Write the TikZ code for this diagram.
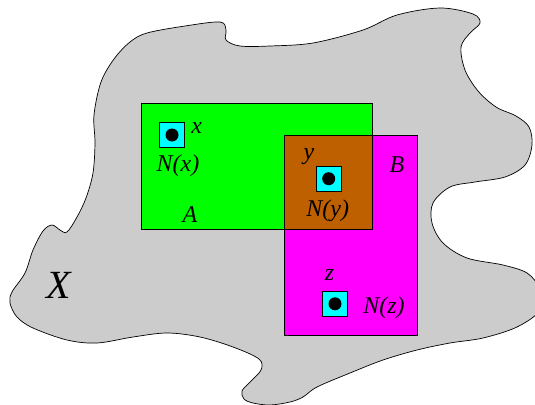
\documentclass[tikz,border=0pt]{standalone}
\usepackage{fontspec}
\setmainfont{Liberation Serif}
\definecolor{blobgray}{RGB}{204,204,204}
\definecolor{setA}{RGB}{0,255,0}
\definecolor{setB}{RGB}{255,0,255}
\definecolor{setAB}{RGB}{191,96,0}
\definecolor{nbhd}{RGB}{0,255,255}
\tikzset{
  lab/.style={font=\fontsize{24}{28}\selectfont\itshape, inner sep=0pt},
  biglab/.style={font=\fontsize{40}{46}\selectfont\itshape, inner sep=0pt},
  nbox/.style={draw=black, line width=0.8pt, fill=nbhd, minimum size=25pt, inner sep=0pt},
  pt/.style={circle, fill=black, minimum size=13pt, inner sep=0pt},
  edge/.style={draw=black, line width=0.8pt},
}
\begin{document}
\begin{tikzpicture}[x=1pt,y=-1pt]
\useasboundingbox (0,0) rectangle (535,404);
\clip (0,0) rectangle (535,404);
% the space X
\draw[fill=blobgray, line width=0.7pt] plot[smooth cycle, tension=0.55] coordinates {
(147,33) (185,26) (220,22) (226,30) (226,40) (240,46) (270,46) (313,43)
(363,30) (397,15) (440,8) (473,14) (480,23) (470,33) (461,47) (465,70)
(478,91) (496,107) (516,116) (529,127) (532,145) (525,165) (505,177) (475,182)
(450,187) (433,203) (432,223) (443,243) (467,258) (503,265) (527,273)
(539,288) (540,310) (517,327) (483,338) (450,343) (417,350) (383,360)
(350,373) (317,387) (303,397) (290,402) (270,405) (253,403) (244,399)
(242,391) (250,382) (261,370) (259,359) (233,347) (200,337) (167,333)
(133,337) (97,343) (67,340) (33,328) (17,317) (10,303) (12,292) (25,273)
(33,250) (43,231) (52,225) (60,230) (67,232) (77,217) (86,198) (93,173)
(95,143) (94,115) (101,82) (114,59) (130,42)};
% sets A and B
\coordinate (A1) at (141,103);
\coordinate (A2) at (372,229);
\coordinate (B1) at (284,135);
\coordinate (B2) at (417,335);
\fill[setA] (A1) rectangle (A2);
\fill[setB] (B1) rectangle (B2);
\fill[setAB] (B1) rectangle (A2);
\draw[edge] (A1) rectangle (A2);
\draw[edge] (B1) rectangle (B2);
% neighbourhoods
\node[nbox] (Nx) at (172,135) {};
\node[pt] (px) at (Nx) {};
\node[nbox] (Ny) at (328.7,178.7) {};
\node[pt] (py) at (Ny) {};
\node[nbox] (Nz) at (335,303.8) {};
\node[pt] (pz) at (Nz) {};
% labels
\node[lab] (lx) at (196.7,128.3) {x};
\node[lab] (lNx) at (178,166) {N(x)};
\node[lab] (ly) at (309,156.7) {y};
\node[lab] (lB) at (397,165) {B};
\node[lab] (lNy) at (327.7,210.3) {N(y)};
\node[lab] (lA) at (190,215) {A};
\node[lab] (lz) at (329.5,275) {z};
\node[lab] (lNz) at (384,308) {N(z)};
\node[biglab] (lX) at (59,285) {X};
\end{tikzpicture}
\end{document}
